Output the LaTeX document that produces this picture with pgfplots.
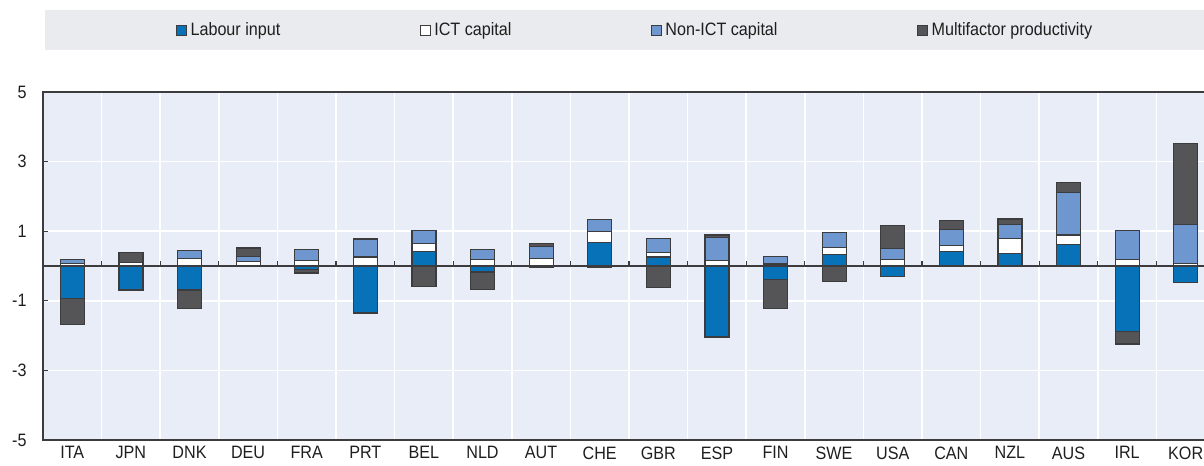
\documentclass[border=0pt]{standalone}
\usepackage{pgfplots}
\pgfplotsset{compat=1.18}
\usepackage{pgfplotstable}
\usepackage{fontspec}
\setmainfont{Liberation Sans}[FakeStretch=0.9]

\definecolor{labour}{RGB}{8,114,185}
\definecolor{nonict}{RGB}{110,150,207}
\definecolor{mfp}{RGB}{85,85,88}
\definecolor{edge}{RGB}{60,60,62}
\definecolor{plotbg}{RGB}{233,237,247}
\definecolor{legbg}{RGB}{234,235,238}
\definecolor{txt}{RGB}{30,30,30}

% growth contributions, one row per country (plotted at i)
\pgfplotstableread{
i lab ict non mfp
0 -0.94 0.07 0.12 -0.74
1 -0.69 0.11 0.00 0.28
2 -0.69 0.22 0.22 -0.54
3 0.00 0.13 0.14 0.25
4 -0.10 0.16 0.32 -0.10
5 -1.35 0.26 0.49 0.03
6 0.41 0.24 0.36 -0.58
7 -0.17 0.18 0.29 -0.50
8 -0.05 0.22 0.35 0.07
9 0.68 0.30 0.35 -0.05
10 0.26 0.12 0.41 -0.62
11 -2.04 0.16 0.67 0.06
12 -0.39 0.06 0.22 -0.83
13 0.33 0.20 0.44 -0.44
14 -0.31 0.19 0.31 0.66
15 0.41 0.17 0.47 0.25
16 0.36 0.44 0.40 0.15
17 0.62 0.27 1.23 0.28
18 -1.89 0.19 0.82 -0.35
19 -0.48 0.08 1.12 2.32
}\growth

\pgfplotsset{
  common/.style={
    width=1172bp, height=348bp, scale only axis,
    at={(43bp,26bp)}, anchor=south west,
    xmin=-0.5, xmax=19.5, ymin=-5, ymax=5,
    ybar stacked, bar width=24bp,
    every axis plot post/.append style={
      legend image code/.code={\draw[##1,line width=1bp] (0bp,-5bp) rectangle (10bp,5bp);}},
  },
  seg/.style={fill=#1, draw=edge, line width=1.2bp},
  every tick label/.append style={font=\fontsize{18}{21}\selectfont, text=txt},
}

\begin{document}
\begin{tikzpicture}
\useasboundingbox (0,0) rectangle (1204bp,466bp);
\clip (0,0) rectangle (1204bp,466bp);
\fill[legbg] (45bp,416bp) rectangle (1225bp,456bp);

% positive parts
\begin{axis}[common,
    axis background/.style={fill=plotbg},
    axis line style={edge, line width=1.5bp},
    xtick={0,...,19},
    xticklabels={ITA,JPN,DNK,DEU,FRA,PRT,BEL,NLD,AUT,CHE,GBR,ESP,FIN,SWE,USA,CAN,NZL,AUS,IRL,KOR},
    x tick style={draw=none},
    xticklabel style={yshift=-3bp},
    minor xtick={0.5,1.5,...,18.5},
    minor tick length=0pt,
    xminorgrids=true,
    ytick={-5,-3,-1,1,3,5},
    yticklabels={-5,-3,-1,1,3,5},
    ytick pos=left,
    tick align=inside,
    major tick length=5bp,
    y tick style={edge, line width=1.2bp},
    ymajorgrids=true,
    grid style={white, line width=1.5bp},
    yticklabel style={xshift=-13bp},
    legend columns=4,
    legend style={at={(0.505,1.178)}, anchor=center, draw=none, fill=none,
      font=\fontsize{18}{21}\selectfont, text=txt,
      nodes={inner sep=1.5bp},
      /tikz/every odd column/.append style={column sep=2bp},
      /tikz/every even column/.append style={column sep=138bp}},
  ]
\addplot[seg=labour] table[x=i, y expr={max(\thisrow{lab},0)}] {\growth};
\addplot[seg=white] table[x=i, y expr={max(\thisrow{ict},0)}] {\growth};
\addplot[seg=nonict] table[x=i, y expr={max(\thisrow{non},0)}] {\growth};
\addplot[seg=mfp] table[x=i, y expr={max(\thisrow{mfp},0)}] {\growth};
\legend{Labour input, ICT capital, Non-ICT capital, Multifactor productivity}
\end{axis}

% negative parts
\begin{axis}[common, hide axis]
\addplot[seg=labour] table[x=i, y expr={min(\thisrow{lab},0)}] {\growth};
\addplot[seg=white] table[x=i, y expr={min(\thisrow{ict},0)}] {\growth};
\addplot[seg=nonict] table[x=i, y expr={min(\thisrow{non},0)}] {\growth};
\addplot[seg=mfp] table[x=i, y expr={min(\thisrow{mfp},0)}] {\growth};
\draw[edge, line width=1.5bp] (axis cs:-0.5,0) -- (axis cs:19.5,0);
\pgfplotsinvokeforeach{0,...,18}{\draw[edge, line width=1.2bp] (axis cs:#1+0.5,0) -- ([yshift=5bp]axis cs:#1+0.5,0);}
\end{axis}
\end{tikzpicture}
\end{document}
